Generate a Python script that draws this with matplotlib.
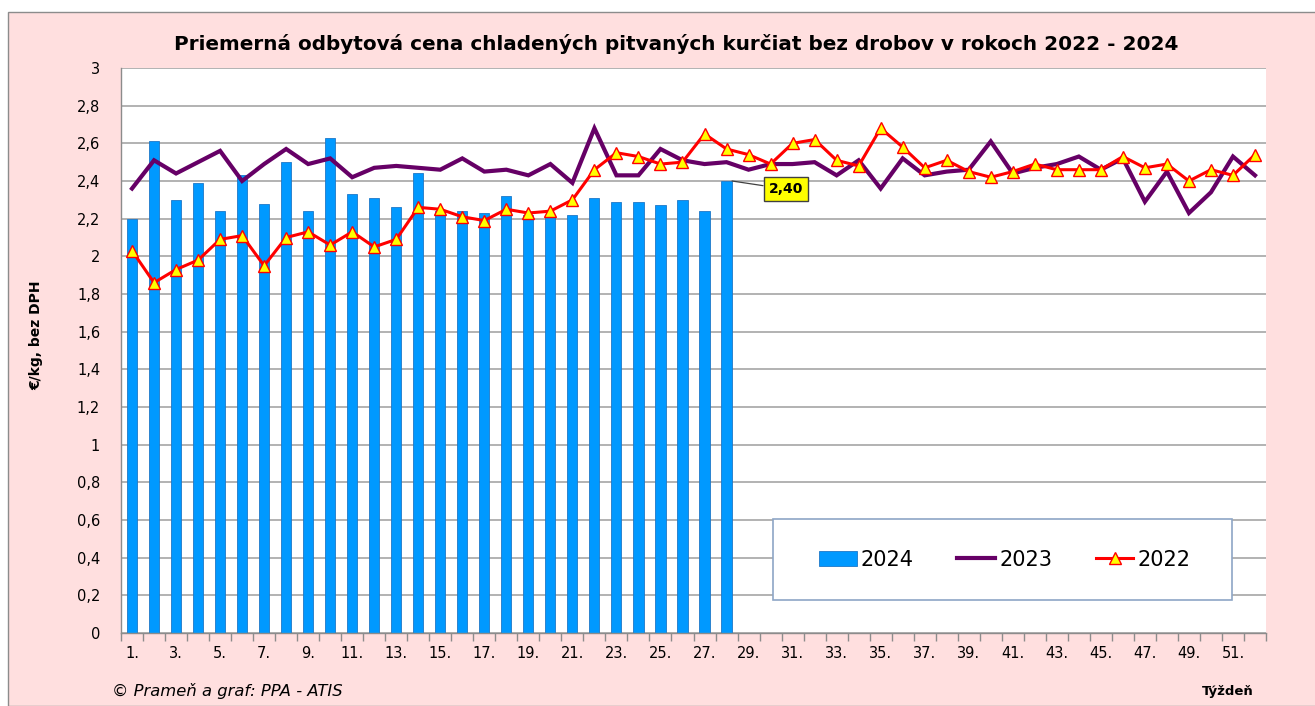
import numpy as np
import matplotlib
matplotlib.use("Agg")
import matplotlib.pyplot as plt
from matplotlib.patches import Rectangle
from matplotlib.lines import Line2D

# ---------------- data ----------------
weeks = list(range(1, 53))
v2024 = [2.20, 2.61, 2.30, 2.39, 2.24, 2.43, 2.28, 2.50, 2.24, 2.63,
         2.33, 2.31, 2.26, 2.44, 2.24, 2.24, 2.23, 2.32, 2.22, 2.22,
         2.22, 2.31, 2.29, 2.29, 2.27, 2.30, 2.24, 2.40]
v2023 = [2.36, 2.51, 2.44, 2.50, 2.56, 2.40, 2.49, 2.57, 2.49, 2.52,
         2.42, 2.47, 2.48, 2.47, 2.46, 2.52, 2.45, 2.46, 2.43, 2.49,
         2.39, 2.68, 2.43, 2.43, 2.57, 2.51, 2.49, 2.50, 2.46, 2.49,
         2.49, 2.50, 2.43, 2.51, 2.36, 2.52, 2.43, 2.45, 2.46, 2.61,
         2.44, 2.47, 2.49, 2.53, 2.46, 2.52, 2.29, 2.45, 2.23, 2.34,
         2.53, 2.43]
v2022 = [2.03, 1.86, 1.93, 1.98, 2.09, 2.11, 1.95, 2.10, 2.13, 2.06,
         2.13, 2.05, 2.09, 2.26, 2.25, 2.21, 2.19, 2.25, 2.23, 2.24,
         2.30, 2.46, 2.55, 2.53, 2.49, 2.50, 2.65, 2.57, 2.54, 2.49,
         2.60, 2.62, 2.51, 2.48, 2.68, 2.58, 2.47, 2.51, 2.45, 2.42,
         2.45, 2.49, 2.46, 2.46, 2.46, 2.53, 2.47, 2.49, 2.40, 2.46,
         2.43, 2.54]
series_names = ["2024", "2023", "2022"]
yticks = [0, 0.2, 0.4, 0.6, 0.8, 1, 1.2, 1.4, 1.6, 1.8, 2, 2.2, 2.4, 2.6, 2.8, 3]
ytick_labels = ["0", "0,2", "0,4", "0,6", "0,8", "1", "1,2", "1,4", "1,6", "1,8",
                "2", "2,2", "2,4", "2,6", "2,8", "3"]
xtick_weeks = list(range(1, 53, 2))
xtick_labels = [f"{w}." for w in xtick_weeks]

title = "Priemerná odbytová cena chladených pitvaných kurčiat bez drobov v rokoch 2022 - 2024"
ylabel = "€/kg, bez DPH"
xlabel = "Týždeň"
source = "© Prameň a graf: PPA - ATIS"

# ---------------- style ----------------
plt.rcParams['font.family'] = ["DejaVu Sans"]
W, H = 1315, 706
fig = plt.figure(figsize=(W / 100, H / 100), dpi=100)
fig.patch.set_facecolor("white")

PINK = "#FFDFDF"
fig.patches.append(Rectangle((8 / W, 0), 1.2, 1 - 12 / H, transform=fig.transFigure,
                             facecolor=PINK, edgecolor="#8C8C8C", lw=1.0, zorder=-10))

L, R, T, B = 121, 1266, 68, 633
ax = fig.add_axes([L / W, 1 - B / H, (R - L) / W, (B - T) / H])
ax.set_facecolor("white")

BLUE = "#0099FF"
PURPLE = "#660066"
RED = "#FF0000"

x24 = np.array(weeks[:len(v2024)])
ax.bar(x24, v2024, width=0.46, color=BLUE, edgecolor="#1E78C8", lw=0.6, zorder=2)
ax.plot(weeks, v2023, color=PURPLE, lw=3.0, zorder=3, solid_joinstyle="miter")
ax.plot(weeks, v2022, color=RED, lw=2.2, marker="^", markersize=8.5,
        markerfacecolor="#FFFF00", markeredgecolor=RED, markeredgewidth=1.0, zorder=4)

ax.set_xlim(0.5, 52.5)
ax.set_ylim(0, 3)
ax.set_yticks(yticks)
ax.set_yticklabels(ytick_labels)
ax.tick_params(axis="y", length=0, pad=15, labelsize=10.5, colors="black")
ax.grid(axis="y", color="#A6A6A6", lw=1.2, zorder=0)
ax.set_axisbelow(True)

# category boundary ticks + labels at odd weeks
ax.set_xticks(np.arange(0.5, 53.5, 1.0))
ax.set_xticklabels([])
ax.tick_params(axis="x", which="major", length=6, width=1, color="#8C8C8C", direction="out")
ax.set_xticks(xtick_weeks, minor=True)
ax.set_xticklabels(xtick_labels, minor=True)
ax.tick_params(axis="x", which="minor", length=0, pad=9, labelsize=10.5)

for s in ["top", "right"]:
    ax.spines[s].set_visible(False)
for s in ["left", "bottom"]:
    ax.spines[s].set_color("#8C8C8C")
    ax.spines[s].set_linewidth(1.0)

# annotation of last 2024 value
last_w = x24[-1]
last_v = v2024[-1]
ax.annotate(f"{last_v:.2f}".replace(".", ","), xy=(last_w + 0.25, last_v),
            xytext=(last_w + 2.7, last_v - 0.043), ha="center", va="center",
            fontsize=10, fontweight="bold", zorder=6,
            bbox=dict(boxstyle="square,pad=0.38", facecolor="#FFFF00", edgecolor="#404040", lw=1.0),
            arrowprops=dict(arrowstyle="-", color="#404040", lw=0.9, shrinkA=0, shrinkB=0))

# legend
lx0, lx1, ly0, ly1 = 773, 1232, 519, 600
ax.add_patch(Rectangle(((lx0 - L) / (R - L), (B - ly1) / (B - T)), (lx1 - lx0) / (R - L),
                       (ly1 - ly0) / (B - T), transform=ax.transAxes, facecolor="white",
                       edgecolor="#8EA6C6", lw=1.2, zorder=7))
handles = [Rectangle((0, 0), 1, 1, facecolor=BLUE, edgecolor="#1E78C8", lw=0.6),
           Line2D([], [], color=PURPLE, lw=3.0),
           Line2D([], [], color=RED, lw=2.2, marker="^", markersize=8.5,
                  markerfacecolor="#FFFF00", markeredgecolor=RED)]
leg = ax.legend(handles, series_names, loc="center", ncol=3, frameon=False,
                bbox_to_anchor=(((lx0 + lx1) / 2 - L) / (R - L) + 0.002, (B - (ly0 + ly1) / 2) / (B - T)),
                fontsize=15, handlelength=1.8, handletextpad=0.2, columnspacing=2.1)
leg.set_zorder(8)

# texts
fig.text(676 / W, 1 - 44 / H, title, ha="center", va="center", fontsize=14.4, fontweight="bold")
fig.text(36 / W, 1 - 335 / H, ylabel, ha="center", va="center", rotation=90,
         fontsize=10, fontweight="bold")
fig.text(112 / W, 1 - 691 / H, source, ha="left", va="center", fontsize=11.8, style="italic")
fig.text(1228 / W, 1 - 691 / H, xlabel, ha="center", va="center", fontsize=9.5, fontweight="bold")

fig.savefig("out.png", dpi=100)
